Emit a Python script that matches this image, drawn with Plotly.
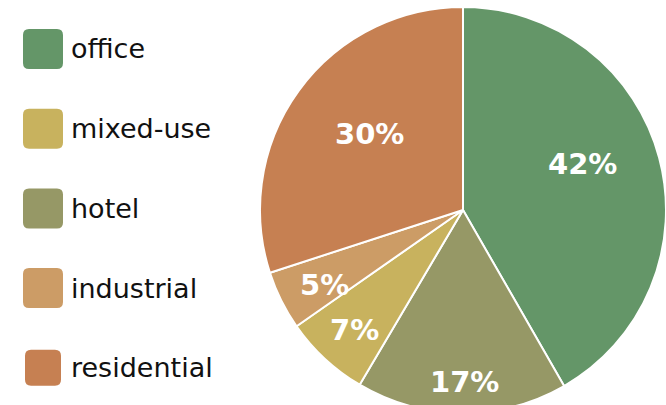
import math
import plotly.graph_objects as go

# ---- data ----
categories = ["office", "hotel", "mixed-use", "industrial", "residential"]
values = [41.7, 16.8, 6.8, 4.7, 30.0]
colors = ["#649668", "#969866", "#C8B25E", "#CC9C66", "#C68052"]
legend_order = ["office", "mixed-use", "hotel", "industrial", "residential"]

# label placement style (fraction of radius, angular nudge in degrees)
label_rfrac = [0.628, 0.847, 0.795, 0.774, 0.593]
label_dang = [6.0, 0.7, 0.8, 2.0, -3.2]

W, H = 666, 416
MT, MB = 7, 3
PH = H - MT - MB
CX, CY, R = 463, 210, 203

def px2paper(x, y):
    return x / W, 1 - (y - MT) / PH

fig = go.Figure()
fig.add_trace(go.Pie(
    labels=categories,
    values=values,
    sort=False,
    direction="clockwise",
    rotation=0,
    marker=dict(colors=colors, line=dict(color="white", width=2)),
    textinfo="none",
    domain=dict(x=[(CX - R) / W, 1.0], y=[0, 1]),
    showlegend=False,
    hoverinfo="label+percent",
))

annotations = []
shapes = []

# ---- slice labels (positions derived from the values) ----
total = sum(values)
cum = 0.0
for i, v in enumerate(values):
    mid = 90 - (cum + v / 2) / total * 360 + label_dang[i]
    cum += v
    r = label_rfrac[i] * R
    lx = CX + r * math.cos(math.radians(mid))
    ly = CY - r * math.sin(math.radians(mid))
    px, py = px2paper(lx, ly)
    annotations.append(dict(x=px, y=py, xref="paper", yref="paper",
                            text=f"{round(v / total * 100)}%", showarrow=False,
                            xanchor="center", yanchor="middle",
                            font=dict(family="DejaVu Sans", size=29, color="white",
                                      weight="bold")))

# ---- custom legend ----
color_of = dict(zip(categories, colors))
y0 = 49
step = 79.7
for i, name in enumerate(legend_order):
    cy = y0 + i * step
    cx = 43
    s = 40 if name != "residential" else 36
    rr = 6
    x1, x2 = cx - s / 2, cx + s / 2
    ya, yb = cy - s / 2, cy + s / 2
    pts = [
        ("M", x1 + rr, ya), ("L", x2 - rr, ya), ("Q", x2, ya, x2, ya + rr),
        ("L", x2, yb - rr), ("Q", x2, yb, x2 - rr, yb), ("L", x1 + rr, yb),
        ("Q", x1, yb, x1, yb - rr), ("L", x1, ya + rr), ("Q", x1, ya, x1 + rr, ya),
    ]
    path = ""
    for p in pts:
        cmd = p[0]
        coords = p[1:]
        parts = []
        for k in range(0, len(coords), 2):
            qx, qy = px2paper(coords[k], coords[k + 1])
            parts.append(f"{qx:.5f},{qy:.5f}")
        path += cmd + " " + " ".join(parts) + " "
    path += "Z"
    shapes.append(dict(type="path", path=path, xref="paper", yref="paper",
                       fillcolor=color_of[name], line=dict(width=0), layer="above"))
    tx, ty = px2paper(69, cy)
    annotations.append(dict(x=tx, y=ty, xref="paper", yref="paper", text=name,
                            showarrow=False, xanchor="left", yanchor="middle",
                            font=dict(family="DejaVu Sans", size=27, color="#111111")))

fig.update_layout(
    width=W, height=H,
    margin=dict(l=0, r=0, t=MT, b=MB),
    paper_bgcolor="white",
    plot_bgcolor="white",
    shapes=shapes,
    annotations=annotations,
)

fig.write_html("out.html")
